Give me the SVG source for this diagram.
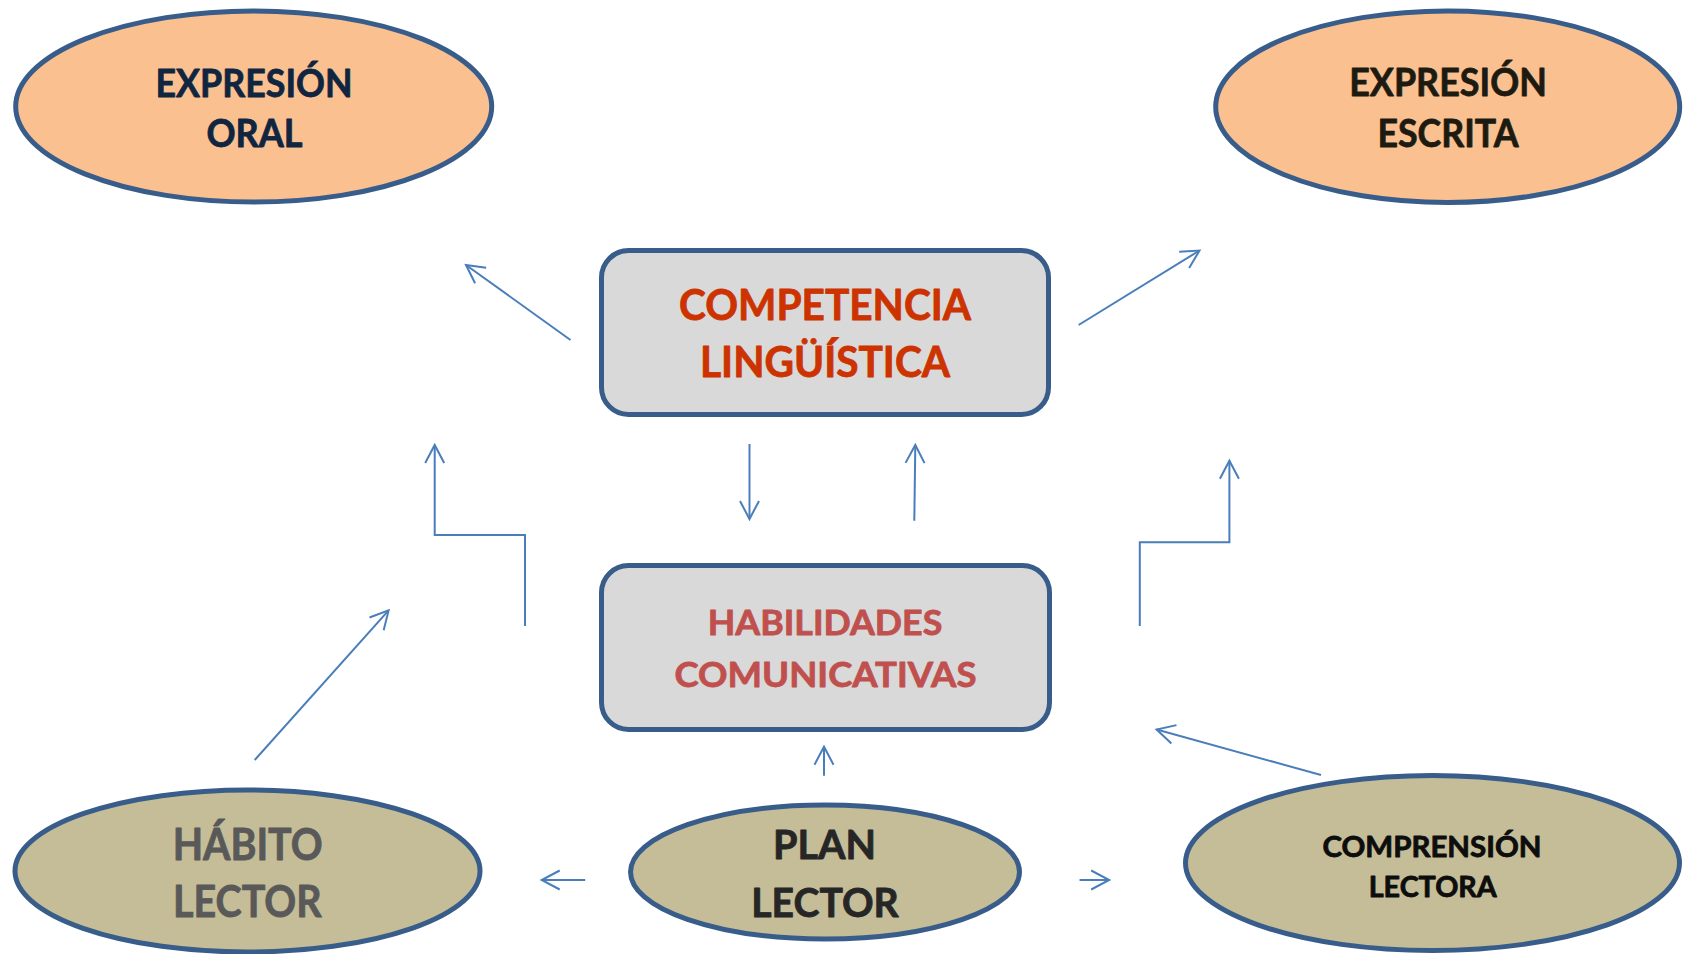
<svg xmlns="http://www.w3.org/2000/svg" width="1688" height="954" viewBox="0 0 1688 954">
  <style>
    .node { stroke: #385D8A; stroke-width: 5; }
    .orange { fill: #FAC090; }
    .olive { fill: #C4BD97; }
    .gray { fill: #D9D9D9; }
    .t { font-family: Lato, "Liberation Sans", Arial, sans-serif; font-weight: bold; text-anchor: middle; stroke-width: 0.8; stroke-linejoin: round; }
    .conn { fill: none; stroke: #4A7EBB; stroke-width: 2; marker-end: url(#arr); }
  </style>
  <defs>
    <marker id="arr" markerUnits="userSpaceOnUse" markerWidth="30" markerHeight="30" viewBox="-25 -15 30 30" refX="0" refY="0" orient="auto" overflow="visible">
      <path d="M-18,-9.5 L0,0 L-18,9.5" fill="none" stroke="#4A7EBB" stroke-width="2"/>
    </marker>
  </defs>
  <rect width="1688" height="954" fill="#FFFFFF"/>

  <g id="connectors">
    <path class="conn" d="M570.5,340 L466,265"/>
    <path class="conn" d="M1078.6,325 L1199.5,250.5"/>
    <path class="conn" d="M749.5,444 L749.5,519"/>
    <path class="conn" d="M914.3,520.7 L915.3,445"/>
    <path class="conn" d="M525,626 V535 H434.7 V445"/>
    <path class="conn" d="M1139.8,626 V542.2 H1229.4 V460.7"/>
    <path class="conn" d="M254.7,760 L388.6,610.4"/>
    <path class="conn" d="M824,775.7 V746.7"/>
    <path class="conn" d="M585.2,880 H541.7"/>
    <path class="conn" d="M1079.5,880 H1109.2"/>
    <path class="conn" d="M1321,775 L1156.6,729.5"/>
  </g>

  <g id="expresion-oral">
    <ellipse class="node orange" cx="253.7" cy="106.5" rx="238" ry="95.6"/>
    <text class="t" x="254" y="96.7" font-size="39" fill="#10253F" stroke="#10253F" textLength="197" lengthAdjust="spacingAndGlyphs">EXPRESIÓN</text>
    <text class="t" x="254.5" y="146.7" font-size="39" fill="#10253F" stroke="#10253F" textLength="96" lengthAdjust="spacingAndGlyphs">ORAL</text>
  </g>

  <g id="expresion-escrita">
    <ellipse class="node orange" cx="1447.7" cy="106.7" rx="232" ry="95.8"/>
    <text class="t" x="1448" y="96" font-size="39" fill="#1D1B11" stroke="#1D1B11" textLength="197.6" lengthAdjust="spacingAndGlyphs">EXPRESIÓN</text>
    <text class="t" x="1448" y="146.7" font-size="39" fill="#1D1B11" stroke="#1D1B11" textLength="141" lengthAdjust="spacingAndGlyphs">ESCRITA</text>
  </g>

  <g id="competencia-linguistica">
    <rect class="node gray" x="601.5" y="250.5" width="447" height="164" rx="27" ry="27"/>
    <text class="t" x="825" y="320" font-size="42" fill="#CC3300" stroke="#CC3300" textLength="292" lengthAdjust="spacingAndGlyphs">COMPETENCIA</text>
    <text class="t" x="825" y="377.3" font-size="42" fill="#CC3300" stroke="#CC3300" textLength="250" lengthAdjust="spacingAndGlyphs">LINGÜÍSTICA</text>
  </g>

  <g id="habilidades-comunicativas">
    <rect class="node gray" x="601.5" y="565.5" width="448" height="164" rx="27" ry="27"/>
    <text class="t" x="825" y="635" font-size="35" fill="#C0504D" stroke="#C0504D" textLength="234.6" lengthAdjust="spacingAndGlyphs">HABILIDADES</text>
    <text class="t" x="825.5" y="687.3" font-size="35" fill="#C0504D" stroke="#C0504D" textLength="302" lengthAdjust="spacingAndGlyphs">COMUNICATIVAS</text>
  </g>

  <g id="habito-lector">
    <ellipse class="node olive" cx="247.5" cy="871" rx="232.5" ry="81"/>
    <text class="t" x="247.7" y="860" font-size="43" fill="#595959" stroke="#595959" textLength="150" lengthAdjust="spacingAndGlyphs">HÁBITO</text>
    <text class="t" x="247.3" y="917.3" font-size="43" fill="#595959" stroke="#595959" textLength="148.7" lengthAdjust="spacingAndGlyphs">LECTOR</text>
  </g>

  <g id="plan-lector">
    <ellipse class="node olive" cx="825" cy="872" rx="194.5" ry="67"/>
    <text class="t" x="824.5" y="859.3" font-size="40" fill="#262626" stroke="#262626" textLength="103" lengthAdjust="spacingAndGlyphs">PLAN</text>
    <text class="t" x="825" y="917.3" font-size="40" fill="#262626" stroke="#262626" textLength="147.5" lengthAdjust="spacingAndGlyphs">LECTOR</text>
  </g>

  <g id="comprension-lectora">
    <ellipse class="node olive" cx="1432.5" cy="863" rx="247" ry="87.5"/>
    <text class="t" x="1432" y="856.7" font-size="28" fill="#0D0D0D" stroke="#0D0D0D" textLength="219" lengthAdjust="spacingAndGlyphs">COMPRENSIÓN</text>
    <text class="t" x="1432.7" y="896.7" font-size="28" fill="#0D0D0D" stroke="#0D0D0D" textLength="128" lengthAdjust="spacingAndGlyphs">LECTORA</text>
  </g>
</svg>
